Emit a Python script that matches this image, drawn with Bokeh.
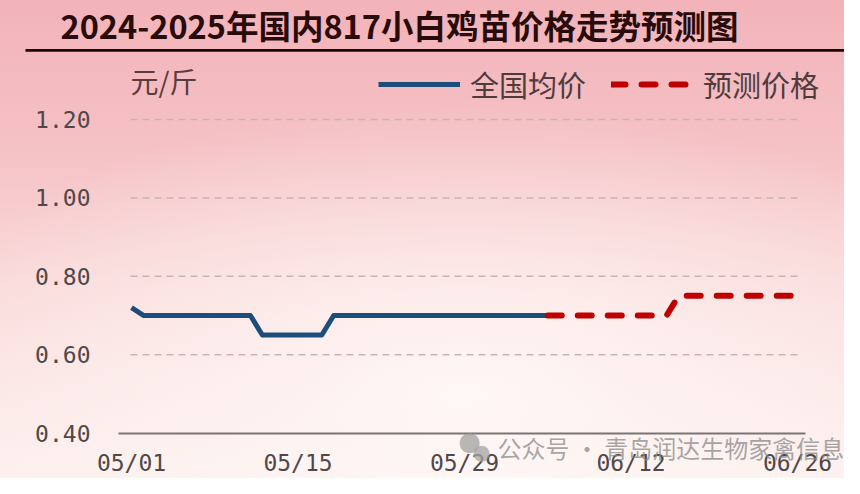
import pandas as pd
from bokeh.plotting import figure
from bokeh.models import (Range1d, FixedTicker, DatetimeTickFormatter, NumeralTickFormatter,
                          Label, BoxAnnotation, Legend, LegendItem, ColumnDataSource)
from bokeh.embed import file_html
from bokeh.resources import INLINE

# ---------------- data ----------------
YEAR = 2025
actual_dates = ["05/01", "05/02", "05/11", "05/12", "05/17", "05/18", "06/05"]
actual_price = [0.72, 0.70, 0.70, 0.65, 0.65, 0.70, 0.70]
forecast_dates = ["06/05", "06/15", "06/16", "06/26"]
forecast_price = [0.70, 0.70, 0.75, 0.75]
x_tick_labels = ["05/01", "05/15", "05/29", "06/12", "06/26"]
y_ticks = [0.40, 0.60, 0.80, 1.00, 1.20]
series_names = ["全国均价", "预测价格"]
title_text = "2024-2025年国内817小白鸡苗价格走势预测图"
unit_text = "元/斤"
watermark_text = "公众号 · 青岛润达生物家禽信息"

# ---------------- layout ----------------
W, H = 844, 478
SY = H / 494.0              # vertical squeeze of the 494px-high reference layout
X_T0 = 131.0                # pixel of first tick
PX_PER_DAY = (797.0 - 131.0) / 56.0
Y_BASE_PX, Y_BASE_V, PX_PER_UNIT = 447.0, 0.40, 405.0


def to_dt(s):
    return pd.to_datetime(f"{YEAR}-{s.replace('/', '-')}")


act = ColumnDataSource(dict(x=[to_dt(d) for d in actual_dates], y=actual_price))
fc = ColumnDataSource(dict(x=[to_dt(d) for d in forecast_dates], y=forecast_price))
tick_dt = [to_dt(s) for s in x_tick_labels]
t0 = tick_dt[0]


def x_at(px):
    return t0 + pd.Timedelta(hours=24.0 * (px - X_T0) / PX_PER_DAY)


def v_at(py):
    return Y_BASE_V + (Y_BASE_PX - py) / PX_PER_UNIT


def sy(py):  # screen y (from the bottom) for a reference pixel row
    return H - py * SY


p = figure(width=W, height=H, x_axis_type="datetime",
           x_range=Range1d(x_at(0), x_at(W)),
           y_range=Range1d(v_at(494), v_at(0)),
           output_backend="svg", toolbar_location=None,
           min_border=0, min_border_left=0, min_border_right=0,
           min_border_top=0, min_border_bottom=0)

p.styles = {"background": "radial-gradient(ellipse 70% 60% at 55% 82%, rgba(255,250,248,0.85) 0%, rgba(255,250,248,0) 100%), "
                          "linear-gradient(to bottom, #f2b3b9 0%, #f5c1c5 30%, #f9d9d9 60%, #fcefed 100%)"}
p.border_fill_alpha = 0
p.background_fill_alpha = 0
p.outline_line_color = None

# axes (placed at fixed locations inside the full-canvas frame)
xa, ya = p.xaxis[0], p.yaxis[0]
xa.ticker = FixedTicker(ticks=[t.value // 10**6 for t in tick_dt])
fmt = "%m/%d"
xa.formatter = DatetimeTickFormatter(milliseconds=fmt, seconds=fmt, minsec=fmt, minutes=fmt,
                                     hourmin=fmt, hours=fmt, days=fmt, months=fmt, years=fmt)
ya.ticker = FixedTicker(ticks=y_ticks)
ya.formatter = NumeralTickFormatter(format="0.00")
for ax in (xa, ya):
    ax.major_tick_out = 0
    ax.major_tick_in = 0
    ax.minor_tick_out = 0
    ax.minor_tick_in = 0
    ax.major_label_text_font = "DejaVu Sans Mono"
    ax.major_label_text_font_size = "23px"
    ax.major_label_text_color = "#504848"
xa.fixed_location = Y_BASE_V
xa.bounds = (x_at(118), x_at(805))
xa.axis_line_color = "#7a7474"
xa.axis_line_width = 2
xa.major_label_standoff = 17
ya.fixed_location = x_at(118).value / 10**6
ya.axis_line_color = None
ya.major_label_standoff = 28

p.xgrid.grid_line_color = None
p.ygrid.grid_line_color = None

# dashed reference lines at the y ticks above the base line
grid_src = ColumnDataSource(dict(y=y_ticks[1:], x0=[x_at(130)] * 4, x1=[x_at(800)] * 4))
p.segment(x0="x0", x1="x1", y0="y", y1="y", source=grid_src,
          line_color="#c9b3b3", line_width=1.5, line_dash="7 5")

# series
r1 = p.line("x", "y", source=act, line_color="#1d4e7b", line_width=5, line_join="round")
r2 = p.line("x", "y", source=fc, line_color="#be0000", line_width=6, line_dash="14 16",
            line_cap="round", line_join="round")

legend = Legend(items=[LegendItem(label=series_names[0], renderers=[r1]),
                       LegendItem(label=series_names[1], renderers=[r2])],
                orientation="horizontal", location=(378, sy(109)),
                background_fill_alpha=0, border_line_alpha=0, padding=0, margin=0,
                glyph_width=82, glyph_height=34, label_standoff=10, spacing=25,
                label_text_font="Noto Sans CJK SC", label_text_font_size="29px",
                label_text_color="#4f3b3b")
p.add_layout(legend)

# texts (screen units relative to the canvas' bottom-left corner)
p.add_layout(Label(x=60, y=H - 24, x_units="screen", y_units="screen", text=title_text,
                   text_font="Noto Sans CJK SC", text_font_style="bold", text_font_size="32.5px",
                   text_color="#2a0b0b", text_baseline="middle"))
p.add_layout(BoxAnnotation(left=25, right=850, bottom=sy(53), top=sy(50),
                           left_units="screen", right_units="screen",
                           top_units="screen", bottom_units="screen",
                           fill_color="#1a0505", fill_alpha=1, line_color=None))
p.add_layout(Label(x=130, y=sy(83), x_units="screen", y_units="screen", text=unit_text,
                   text_font="Noto Sans CJK SC", text_font_size="28px",
                   text_color="#5a3c3c", text_baseline="middle"))
# watermark icon (two bubbles) and text
p.add_layout(Label(x=469, y=sy(455), x_units="screen", y_units="screen", text="●",
                   text_font="DejaVu Sans", text_font_size="26px", text_align="center",
                   text_color="#9a9a9a", text_alpha=0.7, text_baseline="middle"))
p.add_layout(Label(x=481, y=sy(467), x_units="screen", y_units="screen", text="●",
                   text_font="DejaVu Sans", text_font_size="21px", text_align="center",
                   text_color="#a5a5a5", text_alpha=0.75, text_baseline="middle"))
p.add_layout(Label(x=497, y=sy(462), x_units="screen", y_units="screen", text=watermark_text,
                   text_font="Noto Sans CJK SC", text_font_size="24px",
                   text_color="#8a8a8a", text_alpha=0.75, text_baseline="middle"))

open("out.html", "w").write(file_html(p, INLINE))
